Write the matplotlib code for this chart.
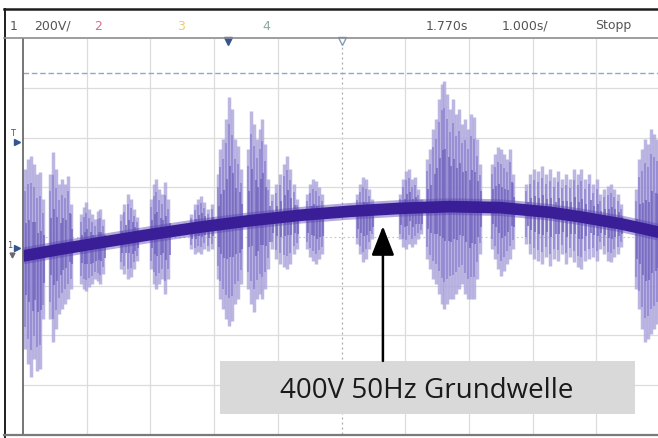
import matplotlib
matplotlib.use("Agg")
import matplotlib.pyplot as plt
from matplotlib.lines import Line2D
from matplotlib.patches import Rectangle
import numpy as np

# ---- oscilloscope data: timebase 1 s/div (0..10 s), 200 V/div (-800..800 V) ----
base_t = [0.0, 0.58, 1.21, 2.0, 2.78, 3.56, 4.35, 5.13, 5.92, 6.70, 7.49, 8.27, 8.74, 9.37, 9.73, 10.0]
base_v = [-79, -52, -25, 8, 38, 64, 86, 102, 114, 121, 117, 98, 80, 52, 32, 16]

spike_t = [
    0.03, 0.08, 0.13, 0.17, 0.22, 0.27, 0.31,
    0.42, 0.47, 0.52, 0.57, 0.61, 0.66, 0.71, 0.75,
    0.91, 0.96, 0.99, 1.04, 1.08, 1.13, 1.18, 1.21, 1.26,
    1.54, 1.59, 1.65, 1.70, 1.74, 1.79,
    2.01, 2.06, 2.09, 2.14, 2.18, 2.23, 2.28,
    2.64, 2.70, 2.75, 2.79, 2.84, 2.90, 2.97,
    3.06, 3.09, 3.14, 3.19, 3.23, 3.28, 3.33, 3.38, 3.42,
    3.53, 3.58, 3.63, 3.67, 3.72, 3.75, 3.80, 3.85,
    3.91, 3.97, 4.03, 4.10, 4.14, 4.19, 4.25, 4.30,
    4.46, 4.51, 4.55, 4.60, 4.65, 4.69,
    5.24, 5.29, 5.34, 5.38, 5.43, 5.48,
    5.92, 5.97, 6.01, 6.06, 6.11, 6.15, 6.20, 6.25,
    6.34, 6.39, 6.44, 6.48, 6.53, 6.58, 6.61, 6.66, 6.70, 6.75, 6.80, 6.84, 6.89,
    6.94, 6.99, 7.03, 7.08, 7.13, 7.17,
    7.36, 7.41, 7.46, 7.50, 7.55, 7.60, 7.65, 7.69,
    7.90, 7.96, 8.02, 8.08, 8.15, 8.21, 8.27, 8.34, 8.40, 8.46, 8.52, 8.59, 8.65,
    8.71, 8.76, 8.82, 8.89, 8.95, 9.01, 9.06,
    9.12, 9.18, 9.23, 9.28, 9.34, 9.39,
    9.62, 9.67, 9.72, 9.76, 9.81, 9.86, 9.91, 9.95,
]
spike_hi = [
    273, 314, 326, 294, 253, 261, 152,
    253, 342, 273, 213, 233, 213, 245, 132,
    91, 119, 140, 111, 91, 71, 103, 111, 71,
    91, 132, 172, 152, 111, 79,
    152, 213, 233, 192, 172, 221, 152,
    91, 132, 152, 164, 140, 111, 132,
    253, 354, 395, 476, 565, 516, 395, 366, 273,
    354, 508, 456, 395, 435, 476, 375, 233,
    172, 213, 253, 294, 326, 273, 213, 152,
    172, 213, 233, 225, 200, 172,
    172, 213, 241, 233, 192, 152,
    172, 233, 265, 273, 233, 241, 192, 152,
    314, 354, 435, 476, 557, 618, 630, 577, 516, 557, 496, 516, 456,
    476, 435, 496, 484, 395, 294,
    294, 334, 362, 354, 334, 314, 354, 253,
    213, 253, 273, 265, 285, 253, 273, 241, 265, 233, 253, 233, 273,
    253, 273, 233, 253, 213, 233, 172,
    192, 204, 213, 192, 172, 132,
    192, 314, 354, 395, 375, 435, 415, 395,
]
spike_lo = [
    -456, -516, -569, -496, -545, -537, -334,
    -334, -427, -375, -314, -294, -273, -253, -213,
    -192, -213, -221, -204, -192, -172, -180, -192, -152,
    -132, -152, -172, -164, -132, -99,
    -132, -192, -213, -192, -172, -233, -172,
    -51, -71, -63, -71, -51, -59, -51,
    -172, -253, -294, -334, -362, -342, -273, -253, -192,
    -213, -273, -306, -253, -233, -253, -213, -132,
    -51, -91, -111, -123, -132, -111, -71, -51,
    -51, -83, -99, -111, -91, -71,
    -30, -71, -103, -91, -51, -10,
    -10, -43, -51, -30, -43, -30, -10, 10,
    -91, -132, -172, -192, -233, -273, -294, -273, -253, -253, -233, -213, -192,
    -233, -253, -253, -253, -172, -71,
    -51, -91, -132, -160, -140, -111, -91, -51,
    -30, -71, -91, -99, -111, -83, -119, -91, -99, -71, -111, -83, -103,
    -123, -132, -99, -91, -83, -99, -51,
    -71, -99, -103, -83, -71, -43,
    -213, -294, -375, -427, -415, -395, -375, -354,
]

ref_level = 662          # dashed reference line
trig_pos = [3.22, 5.01]  # markers under the header

header_items = [("1", 10), ("200V/", 34), ("2", 94), ("3", 177), ("4", 262),
                ("1.770s", 426), ("1.000s/", 502), ("Stopp", 595)]
header_colors = ["#555555", "#555555", "#d0708e", "#e6cf6a", "#8fa89a",
                 "#555555", "#555555", "#555555"]

# ---------------------------------------------------------------
W, H = 658, 439
fig = plt.figure(figsize=(W / 100, H / 100), dpi=100)
fig.patch.set_facecolor("white")


def fx(px):
    return px / W


def fy(py):
    return 1 - py / H


ax = fig.add_axes([fx(23), fy(435), 637 / W, 395 / H])
ax.set_xlim(0, 10)
ax.set_ylim(-800, 800)
ax.axis("off")

# grid
for t in range(1, 10):
    if t == 5:
        ax.axvline(t, color="#a8a8a8", lw=0.9, ls=(0, (1.5, 2.5)), zorder=1)
    else:
        ax.axvline(t, color="#dcdcdc", lw=0.9, zorder=1)
for v in [-600, -400, -200, 200, 400, 600]:
    ax.axhline(v, color="#dcdcdc", lw=0.9, zorder=1)
ax.axhline(0, color="#c4c4c4", lw=0.8, ls=(0, (1.5, 2.5)), zorder=1)
ax.axvline(0, color="#6a6a6a", lw=1.3, zorder=5, clip_on=False)

# reference dashed line
ax.axhline(ref_level, color="#8aaacb", lw=1.0, ls=(0, (4, 2)), zorder=2)

# noise bursts
st = np.array(spike_t)
sh = np.array(spike_hi, dtype=float)
sl = np.array(spike_lo, dtype=float)
span = sh - sl
ax.vlines(st, sl, sh, color="#aba4dc", lw=2.5, alpha=0.8, zorder=3)
ax.vlines(st, sl + 0.12 * span, sh - 0.12 * span, color="#8d82cf", lw=1.4, alpha=0.75, zorder=3)
ax.vlines(st + 0.02, sl + 0.3 * span, sh - 0.3 * span, color="#6c5fbb", lw=1.4, alpha=0.7, zorder=3)

# fundamental (thick band)
ax.plot(base_t, base_v, color="#5a45b2", lw=12, alpha=0.45, solid_capstyle="butt", zorder=4)
ax.plot(base_t, base_v, color="#3a1e98", lw=8.4, solid_capstyle="butt", zorder=4)

# trigger markers at top
ax.plot([trig_pos[0]], [790], marker="v", ms=6, color="#35558f", clip_on=False, zorder=6)
ax.plot([trig_pos[1]], [790], marker="v", ms=6, mfc="white", mec="#7d9cbc", mew=1, clip_on=False, zorder=6)

# annotation box + arrow
ax.add_patch(Rectangle((0.309, 0.051), 0.652, 0.134, transform=ax.transAxes,
                       facecolor="#d9d9d9", edgecolor="none", zorder=7))
ax.text(0.634, 0.094, "400V 50Hz Grundwelle", transform=ax.transAxes, ha="center",
        va="baseline", fontsize=20, family="Open Sans", color="#1a1a1a", zorder=8)
ax.annotate("", xy=(5.65, 42), xytext=(5.65, -504),
            arrowprops=dict(arrowstyle="-|>,head_length=0.9,head_width=0.35",
                            lw=1.8, color="black", mutation_scale=20,
                            shrinkA=0, shrinkB=0), zorder=8)

# frame / header
fig.add_artist(Line2D([fx(4), 1], [fy(10), fy(10)], color="#1e1e1e", lw=1.8))
fig.add_artist(Line2D([fx(4.5), fx(4.5)], [fy(10), 0], color="#1e1e1e", lw=1.4))
fig.add_artist(Line2D([fx(4), 1], [fy(38.5), fy(38.5)], color="#8c8c8c", lw=1.2))
fig.add_artist(Line2D([fx(4), 1], [fy(435.5), fy(435.5)], color="#7a7a7a", lw=1.6))

for (txt, px), col in zip(header_items, header_colors):
    fig.text(fx(px), fy(26), txt, ha="left", va="center", fontsize=9,
             family=["Liberation Sans Narrow", "DejaVu Sans"], color=col)

# left markers
fig.text(fx(13), fy(133), "T", ha="center", va="center", fontsize=6, color="#555555")
fig.add_artist(Line2D([fx(17)], [fy(143)], marker=">", ms=4, color="#35558f", ls="none"))
fig.text(fx(10), fy(246), "1", ha="center", va="center", fontsize=6, color="#555555")
fig.add_artist(Line2D([fx(17)], [fy(249)], marker=">", ms=4, color="#35558f", ls="none"))
fig.add_artist(Line2D([fx(12)], [fy(256)], marker="v", ms=3.5, color="#6a6a6a", ls="none"))

fig.savefig("out.png", dpi=100, facecolor="white")
